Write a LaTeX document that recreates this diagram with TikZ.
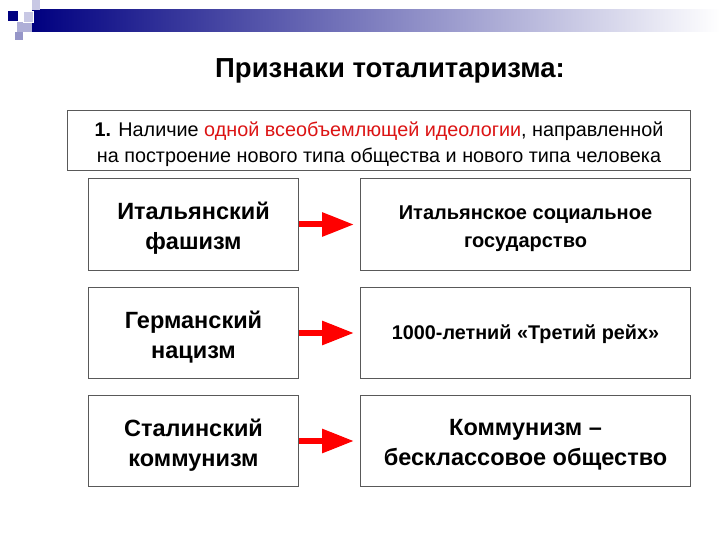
\documentclass[tikz,border=0pt]{standalone}
\usepackage{fontspec}
\setmainfont{Liberation Sans}
\usetikzlibrary{arrows.meta}
\definecolor{navy}{RGB}{0,0,128}
\definecolor{lav}{RGB}{200,200,228}
\definecolor{midp}{RGB}{150,150,200}
\definecolor{lightp}{RGB}{175,175,215}
\definecolor{txtred}{RGB}{220,20,20}
\begin{document}
\begin{tikzpicture}[x=1pt,y=-1pt,
  box/.style={draw=black!65,line width=1pt,fill=white,inner sep=0pt,anchor=north west},
  ltxt/.style={font=\bfseries\fontsize{23.5}{30}\selectfont,align=center,yshift=-4pt},
  rtxt/.style={font=\bfseries\fontsize{20}{27.5}\selectfont,align=center,yshift=-4pt},
  arr/.style={draw=red,line width=6pt,-{Triangle[length=32pt,width=23pt]}}]
\useasboundingbox (0,0) rectangle (720,540);
% header decoration
\shade[left color=navy,right color=white] (32,10) rectangle (720,32);
\fill[lightp] (17,22) rectangle (32,32);
\fill[midp] (15,32) rectangle (23,40);
\fill[lav] (32,0) rectangle (40,10);
\fill[lav,draw=white] (23,11) rectangle (33,22);
\fill[navy] (8,11) rectangle (18,21);
% title
\node[font=\bfseries\fontsize{27.5}{32}\selectfont] (title) at (390,71) {Признаки тоталитаризма:};
% top box
\node[box,minimum width=623pt,minimum height=60pt] (top) at (67,110) {};
\node[font=\fontsize{19.8}{26}\selectfont,align=center,yshift=-4pt] (toptxt) at (top.center)
  {\textbf{1.} Наличие \textcolor{txtred}{одной всеобъемлющей идеологии}, направленной\\на построение нового типа общества и нового типа человека};
% left boxes
\node[box,minimum width=210pt,minimum height=92pt] (l1) at (88,178) {};
\node[box,minimum width=210pt,minimum height=91pt] (l2) at (88,287) {};
\node[box,minimum width=210pt,minimum height=91pt] (l3) at (88,395) {};
\node[ltxt] (l1t) at (l1.center) {Итальянский\\фашизм};
\node[ltxt] (l2t) at (l2.center) {Германский\\нацизм};
\node[ltxt] (l3t) at (l3.center) {Сталинский\\коммунизм};
% right boxes
\node[box,minimum width=330pt,minimum height=92pt] (r1) at (360,178) {};
\node[box,minimum width=330pt,minimum height=91pt] (r2) at (360,287) {};
\node[box,minimum width=330pt,minimum height=91pt] (r3) at (360,395) {};
\node[rtxt] (r1t) at (r1.center) {Итальянское социальное\\государство};
\node[rtxt,yshift=3pt,font=\bfseries\fontsize{19.8}{28}\selectfont] (r2t) at (r2.center) {1000-летний «Третий рейх»};
\node[ltxt] (r3t) at (r3.center) {Коммунизм –\\бесклассовое общество};
% arrows
\draw[arr] (l1.east) -- ([xshift=-6pt]r1.west);
\draw[arr] (l2.east) -- ([xshift=-6pt]r2.west);
\draw[arr] (l3.east) -- ([xshift=-6pt]r3.west);
\end{tikzpicture}
\end{document}
